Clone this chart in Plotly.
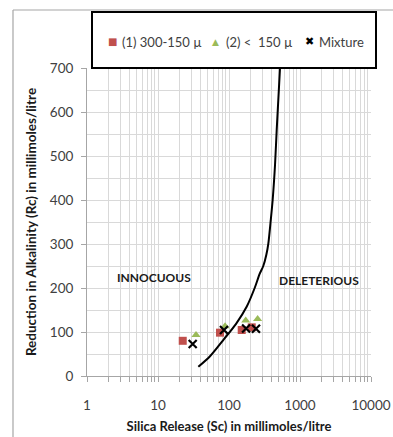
import plotly.graph_objects as go

# Sample results
sc_coarse = [22.3, 74.7, 151, 209]      # (1) 300-150 µ
rc_coarse = [80, 98.5, 104.5, 110.6]
sc_fine = [34.3, 88, 172, 253]          # (2) < 150 µ
rc_fine = [93, 113, 126, 129.5]
sc_mix = [30.8, 85, 174, 240]           # Mixture
rc_mix = [72.7, 104.5, 108, 107.5]

# Boundary curve between innocuous and deleterious zones
sc_curve = [37, 54, 85, 125, 178, 230, 270, 304, 335, 358, 385, 412, 445, 470, 523]
rc_curve = [21, 45, 84, 118, 158, 200, 232, 250, 275, 301, 350, 400, 480, 560, 700]

x_ticks = [1, 10, 100, 1000, 10000]
x_tick_text = ["1", "10", "100", "1000", "10000"]

series_names = ["(1) 300-150 \u00b5", "(2) <  150 \u00b5", "Mixture"]
series_colors = ["#C0504D", "#9BBB59", "black"]

FONT = "Lato"
GRID = "#d9d9d9"
TXT = "#404040"
AX = "#a6a6a6"

PW, PH = 284, 308   # plot area size in px
def px(xp):
    return (xp - 87) / PW
def py(yp):
    return (376 - yp) / PH

fig = go.Figure()

fig.add_trace(go.Scatter(
    x=sc_coarse, y=rc_coarse, mode="markers", name=series_names[0], showlegend=False,
    marker=dict(symbol="square", size=8, color=series_colors[0]),
))
fig.add_trace(go.Scatter(
    x=sc_fine, y=rc_fine, mode="markers", name=series_names[1], showlegend=False,
    marker=dict(symbol="triangle-up", size=8, color=series_colors[1]),
))
fig.add_trace(go.Scatter(
    x=sc_mix, y=rc_mix, mode="markers", name=series_names[2], showlegend=False,
    marker=dict(symbol="x-thin-open", size=8, color="black",
                line=dict(color="black", width=2.2)),
))
fig.add_trace(go.Scatter(
    x=sc_curve, y=rc_curve, mode="lines", showlegend=False,
    line=dict(color="black", width=2, shape="spline", smoothing=0.8),
))

fig.add_annotation(x=0.944, y=225, xref="x", yref="y", text="<b>INNOCUOUS</b>",
                   showarrow=False, font=dict(family=FONT, size=12, color="#1a1a1a"))
fig.add_annotation(x=3.268, y=218, xref="x", yref="y", text="<b>DELETERIOUS</b>",
                   showarrow=False, font=dict(family=FONT, size=12, color="#1a1a1a"))

# Legend frame and chart outline
fig.add_shape(type="rect", xref="paper", yref="paper",
              x0=px(92), x1=px(376), y0=py(68), y1=py(12),
              line=dict(color="black", width=2), fillcolor="white", layer="above")
fig.add_shape(type="line", xref="paper", yref="paper",
              x0=px(13), x1=px(393), y0=py(10), y1=py(10),
              line=dict(color=AX, width=1.2))
fig.add_shape(type="line", xref="paper", yref="paper",
              x0=px(13), x1=px(13), y0=py(10), y1=py(437),
              line=dict(color=AX, width=1.2))

# Legend keys and labels
key_glyphs = ["\u25A0", "\u25B2", "\u2716"]
key_sizes = [10, 9, 11]
key_x = [112, 215, 309]
label_x = [120, 224, 317]
for glyph, gsize, color, kx, lx, name in zip(key_glyphs, key_sizes, series_colors,
                                             key_x, label_x, series_names):
    fig.add_annotation(x=px(kx), y=py(42), xref="paper", yref="paper", text=glyph,
                       showarrow=False, xanchor="center", yanchor="middle",
                       font=dict(family="DejaVu Sans", size=gsize, color=color))
    fig.add_annotation(x=px(lx), y=py(42), xref="paper", yref="paper", text=name,
                       showarrow=False, xanchor="left", yanchor="middle",
                       font=dict(family=FONT, size=13, color=TXT))

fig.update_layout(
    width=393, height=437,
    margin=dict(l=87, r=22, t=68, b=61, autoexpand=False),
    paper_bgcolor="white", plot_bgcolor="white",
    font=dict(family=FONT, color=TXT, size=12),
    showlegend=False,
    xaxis=dict(
        type="log", range=[0, 4], tickvals=x_ticks, ticktext=x_tick_text,
        showgrid=True, gridcolor=GRID, gridwidth=1,
        showline=True, linecolor=AX, ticks="outside", ticklen=5, tickcolor=AX,
        ticklabelstandoff=12,
        minor=dict(dtick="D1", showgrid=True, gridcolor=GRID, ticks="outside",
                   ticklen=5, tickcolor=AX),
        tickfont=dict(family=FONT, size=13.5, color=TXT),
        title=dict(text="<b>Silica Release (Sc) in millimoles/litre</b>",
                   font=dict(family=FONT, size=13, color="#1a1a1a"), standoff=9),
        zeroline=False,
    ),
    yaxis=dict(
        range=[0, 700], dtick=100, showgrid=True, gridcolor=GRID, gridwidth=1,
        showline=True, linecolor=AX, ticks="outside", ticklen=5, tickcolor=AX,
        ticklabelstandoff=5,
        minor=dict(dtick=50, showgrid=True, gridcolor=GRID),
        tickfont=dict(family=FONT, size=13.5, color=TXT),
        title=dict(text="<b>Reduction in Alkalinity (Rc) in millimoles/litre</b>",
                   font=dict(family=FONT, size=13.5, color="#1a1a1a"), standoff=10),
        zeroline=False,
    ),
)

fig.write_html("out.html")
